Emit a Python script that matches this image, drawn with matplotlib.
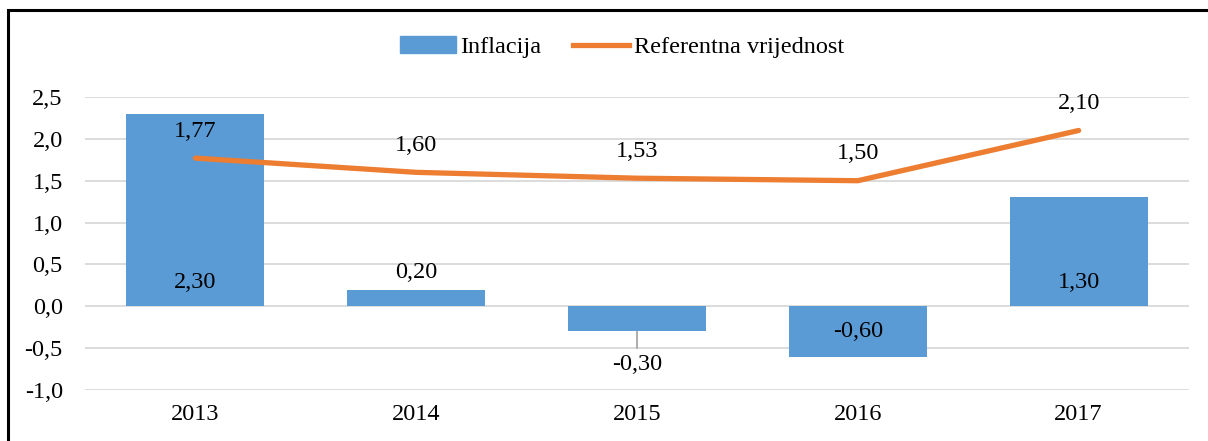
import numpy as np
import matplotlib.pyplot as plt
from matplotlib.patches import Rectangle
from matplotlib.lines import Line2D

years = ['2013', '2014', '2015', '2016', '2017']
inflacija = [2.30, 0.20, -0.30, -0.60, 1.30]
referentna = [1.77, 1.60, 1.53, 1.50, 2.10]
yticks = [-1.0, -0.5, 0.0, 0.5, 1.0, 1.5, 2.0, 2.5]

plt.rcParams['font.family'] = ['Liberation Serif', 'DejaVu Serif']
fs = 17.5

fig = plt.figure(figsize=(12.08, 4.41), dpi=100)
ax = fig.add_axes([85/1208, 1-390/441, 1104/1208, 293/441])

x = np.arange(len(years))
blue = '#5B9BD5'
orange = '#ED7D31'

ax.bar(x, inflacija, width=0.625, color=blue, zorder=2)
ax.plot(x, referentna, color=orange, lw=3.8, solid_capstyle='round', zorder=3)

ax.set_xlim(-0.5, len(years) - 0.5)
ax.set_ylim(-1.0, 2.5)
ax.set_yticks(yticks)
ax.set_yticklabels([f'{v:.1f}'.replace('.', ',') for v in yticks], fontsize=fs)
ax.set_xticks(x)
ax.set_xticklabels(years, fontsize=fs)
ax.tick_params(length=0, pad=10)
ax.tick_params(axis='y', pad=16)
ax.grid(axis='y', color='#D9D9D9', lw=1.3, zorder=0)
ax.set_axisbelow(True)
for s in ax.spines.values():
    s.set_visible(False)

def fmt(v):
    return f'{v:.2f}'.replace('.', ',')

# bar labels
for i, v in enumerate(inflacija):
    if v >= 1.0:
        ax.annotate(fmt(v), (i, 0), xytext=(0, 24), textcoords='offset pixels',
                    ha='center', va='center', fontsize=fs, zorder=4)
    elif v >= 0:
        ax.annotate(fmt(v), (i, v), xytext=(0, 17), textcoords='offset pixels',
                    ha='center', va='center', fontsize=fs, zorder=4)
    elif v > -0.5:
        ax.annotate(fmt(v), (i, v), xytext=(0, -33), textcoords='offset pixels',
                    ha='center', va='center', fontsize=fs, zorder=4)
        ax.annotate('', (i, v), xytext=(i, v - 0.2),
                    arrowprops=dict(arrowstyle='-', color='#A6A6A6', lw=1.3,
                                    shrinkA=0, shrinkB=0))
    else:
        ax.annotate(fmt(v), (i, v), xytext=(0, 25), textcoords='offset pixels',
                    ha='center', va='center', fontsize=fs, zorder=4)

# line labels
for i, v in enumerate(referentna):
    ax.annotate(fmt(v), (i, v), xytext=(0, 27), textcoords='offset pixels',
                ha='center', va='center', fontsize=fs, zorder=4)

handles = [Rectangle((0, 0), 1, 1, color=blue),
           Line2D([0], [0], color=orange, lw=3.8)]
fig.legend(handles, ['Inflacija', 'Referentna vrijednost'], loc='center',
           bbox_to_anchor=(0.515, 1-47/441), ncol=2, frameon=False, fontsize=fs,
           handlelength=2.3, handletextpad=0.2, columnspacing=1.3)

# outer frame
fig.add_artist(Rectangle((8/1208, -0.05), 1.2, 1.05 - 10/441, transform=fig.transFigure,
                         fill=False, ec='black', lw=2.2))

fig.savefig('out.png', dpi=100)
